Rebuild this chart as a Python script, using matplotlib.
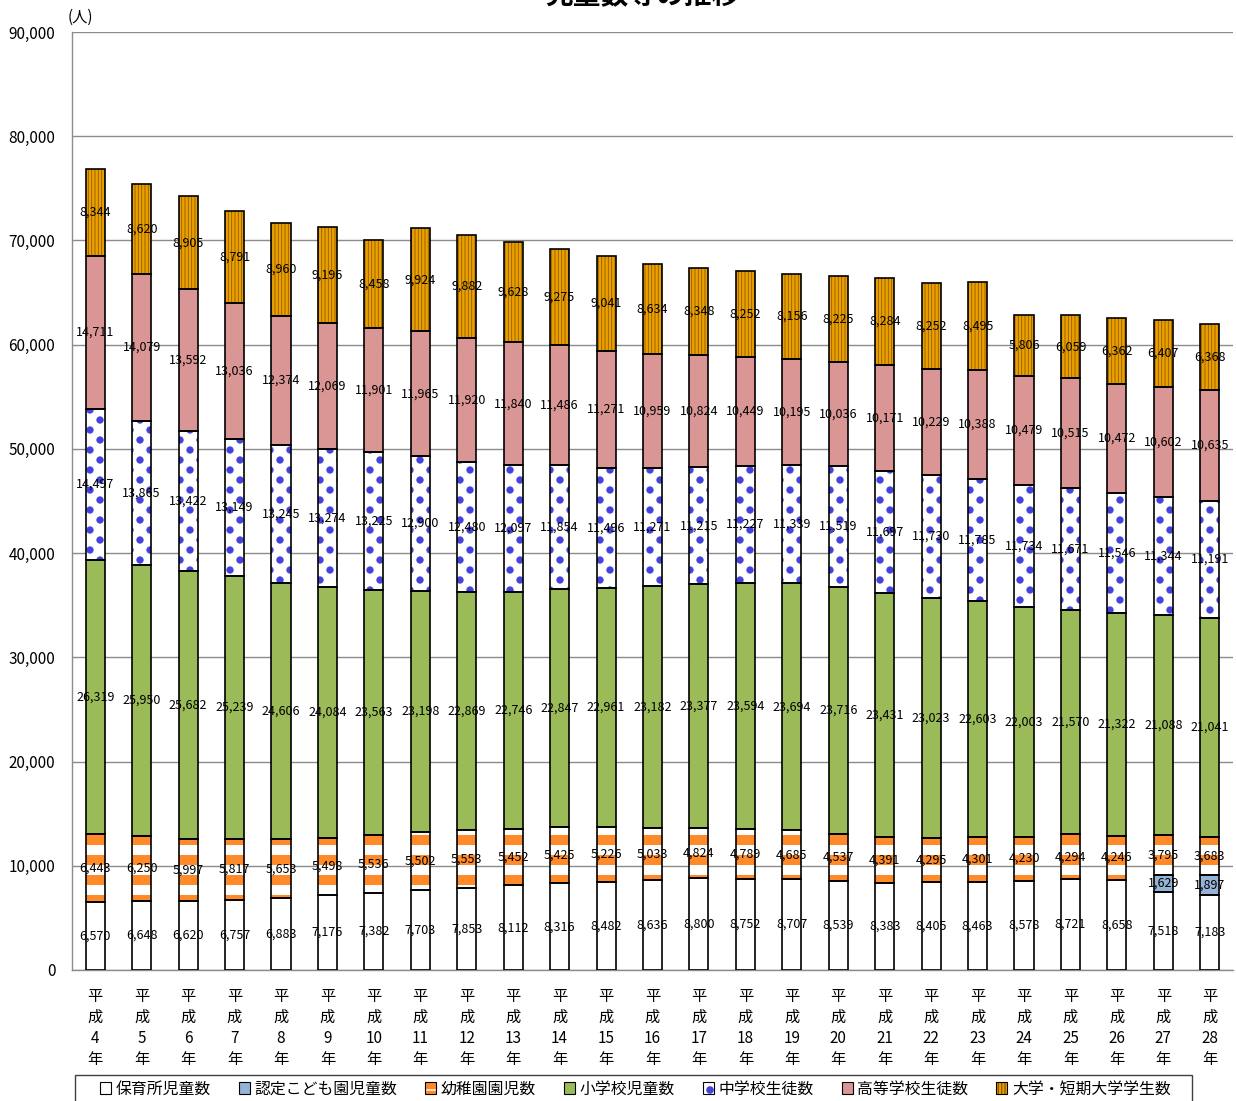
import matplotlib
matplotlib.use('Agg')
import matplotlib.pyplot as plt
import matplotlib.hatch as mhatch
from matplotlib.path import Path
from matplotlib.patches import Patch, Rectangle
from matplotlib.ticker import FuncFormatter
import numpy as np

plt.rcParams['font.family'] = ['Noto Sans CJK JP', 'DejaVu Sans']

years = [str(y) for y in range(4, 29)]
xlabels = ['平\n成\n' + y + '\n年' for y in years]

hoikusho = [6570, 6648, 6620, 6757, 6883, 7176, 7382, 7703, 7853, 8112, 8316, 8482, 8636,
            8800, 8752, 8707, 8539, 8383, 8405, 8463, 8578, 8721, 8658, 7518, 7183]
nintei = [0] * 23 + [1629, 1897]
yochien = [6443, 6250, 5997, 5817, 5653, 5498, 5536, 5502, 5553, 5452, 5425, 5226, 5033,
           4824, 4789, 4685, 4537, 4391, 4295, 4301, 4230, 4294, 4246, 3795, 3683]
shogakko = [26319, 25950, 25682, 25239, 24606, 24084, 23563, 23198, 22869, 22746, 22847, 22961, 23182,
            23377, 23594, 23694, 23716, 23431, 23023, 22603, 22003, 21570, 21322, 21088, 21041]
chugakko = [14497, 13865, 13422, 13149, 13245, 13274, 13225, 12900, 12480, 12097, 11854, 11496, 11271,
            11215, 11227, 11339, 11519, 11697, 11730, 11785, 11734, 11671, 11546, 11344, 11191]
koko = [14711, 14079, 13592, 13036, 12374, 12069, 11901, 11965, 11920, 11840, 11486, 11271, 10959,
        10824, 10449, 10195, 10036, 10171, 10229, 10388, 10479, 10515, 10472, 10602, 10635]
daigaku = [8344, 8620, 8905, 8791, 8960, 9196, 8458, 9924, 9882, 9628, 9275, 9041, 8634,
           8348, 8252, 8156, 8225, 8284, 8252, 8495, 5806, 6059, 6362, 6407, 6368]

series_names = ['保育所児童数', '認定こども園児童数', '幼稚園園児数', '小学校児童数',
                '中学校生徒数', '高等学校生徒数', '大学・短期大学学生数']
series_vals = [hoikusho, nintei, yochien, shogakko, chugakko, koko, daigaku]

# style: facecolor, hatch, hatchcolor, hatch linewidth
styles = [
    ('white', None, 'white', 1.0),
    ('#95B3D7', None, '#95B3D7', 1.0),
    ('#FF8A2A', '-', 'white', 7.2),
    ('#9BBB59', None, '#9BBB59', 1.0),
    ('white', '.', '#4343DC', 0.8),
    ('#DA9694', None, '#DA9694', 1.0),
    ('#E9A100', '|||||', '#955800', 0.6),
]


# --- custom hatch patterns (staggered large dots, wider horizontal stripes) ---
class BigDots(mhatch.HatchPatternBase):
    def __init__(self, hatch, density):
        n = hatch.count('.')
        circ = Path.unit_circle()
        self.cv = circ.vertices
        self.cc = circ.codes
        self.centers = []
        if n:
            rows, cols = 10 * n, 5 * n
            for i in range(rows + 1):
                off = 0.5 if i % 2 else 0.0
                for j in range(-1, cols + 2):
                    self.centers.append(((j + off) / cols, i / rows))
        self.num_vertices = len(self.centers) * len(self.cv)

    def set_vertices_and_codes(self, vertices, codes):
        r = 0.031
        nv = len(self.cv)
        for k, (cx, cy) in enumerate(self.centers):
            vertices[k * nv:(k + 1) * nv] = self.cv * r + np.array([cx, cy])
            codes[k * nv:(k + 1) * nv] = self.cc


class WideHorizontal(mhatch.HorizontalHatch):
    def __init__(self, hatch, density):
        self.num_lines = int((hatch.count('-') + hatch.count('+')) * 5)
        self.num_vertices = self.num_lines * 2


mhatch._hatch_types = [WideHorizontal if t is mhatch.HorizontalHatch else
                       BigDots if t is mhatch.SmallFilledCircles else t
                       for t in mhatch._hatch_types]

fig = plt.figure(figsize=(12.36, 11.01), dpi=100)
ax = fig.add_axes([72 / 1236, 1 - 970 / 1101, (1233 - 72) / 1236, (970 - 32) / 1101])

n = len(years)
x = np.arange(n)
w = 0.41
bottom = np.zeros(n)
handles = []
for name, vals, (fc, hatch, hc, hlw) in zip(series_names, series_vals, styles):
    vals = np.array(vals, dtype=float)
    m = vals > 0
    with plt.rc_context({'hatch.linewidth': hlw}):
        bars = ax.bar(x[m], vals[m], w, bottom=bottom[m], facecolor=fc, edgecolor=hc,
                      linewidth=0, hatch=hatch, zorder=2)
        for b in bars:
            if hasattr(b, 'set_hatch_linewidth'):
                b.set_hatch_linewidth(hlw)
        hp = Patch(facecolor=fc, edgecolor=hc, linewidth=0, hatch=hatch)
        if hasattr(hp, 'set_hatch_linewidth'):
            hp.set_hatch_linewidth(min(hlw, 3.0))
    ax.bar(x[m], vals[m], w, bottom=bottom[m], fill=False, edgecolor='black',
           linewidth=1.2, zorder=3)
    for xi, v, b0 in zip(x[m], vals[m], bottom[m]):
        ax.text(xi, b0 + v / 2, f'{int(v):,}', ha='center', va='center',
                fontsize=9, color='black', zorder=5)
    handles.append((hp, Patch(fill=False, edgecolor='black', linewidth=0.8)))
    bottom += vals

ax.set_xlim(-0.5, n - 0.5)
ax.set_ylim(0, 90000)
ax.set_yticks(np.arange(0, 90001, 10000))
ax.yaxis.set_major_formatter(FuncFormatter(lambda v, p: f'{int(v):,}'))
ax.set_xticks(x)
ax.set_xticklabels(xlabels, fontsize=11, linespacing=1.31)
ax.tick_params(axis='x', length=0, pad=13)
ax.tick_params(axis='y', length=0, pad=12, labelsize=11)
ax.yaxis.grid(True, color='#8C8C8C', linewidth=1)
ax.set_axisbelow(True)
for s in ['top', 'right']:
    ax.spines[s].set_visible(False)
for s in ['left', 'bottom']:
    ax.spines[s].set_color('#8C8C8C')
    ax.spines[s].set_linewidth(1)

fig.text(68 / 1236, 1 - 17 / 1101, '(人)', fontsize=11, va='center', ha='left')
fig.text(642 / 1236, 1 - 9 / 1101, '児童数等の推移', fontsize=20, fontweight='bold',
         ha='center', va='bottom')

leg = fig.legend(handles, series_names, loc='center left',
                 bbox_to_anchor=(100 / 1236, 1 - 1089 / 1101), ncol=7, frameon=False,
                 fontsize=11.4, handlelength=0.7, handleheight=0.7, handletextpad=0.3,
                 columnspacing=1.75, borderpad=0, borderaxespad=0)
fig.patches.append(Rectangle((75 / 1236, -0.02), (1192 - 75) / 1236, 1 - 1075 / 1101 + 0.02,
                             transform=fig.transFigure, fill=False, edgecolor='#404040',
                             linewidth=1))

fig.savefig('out.png', dpi=100)
